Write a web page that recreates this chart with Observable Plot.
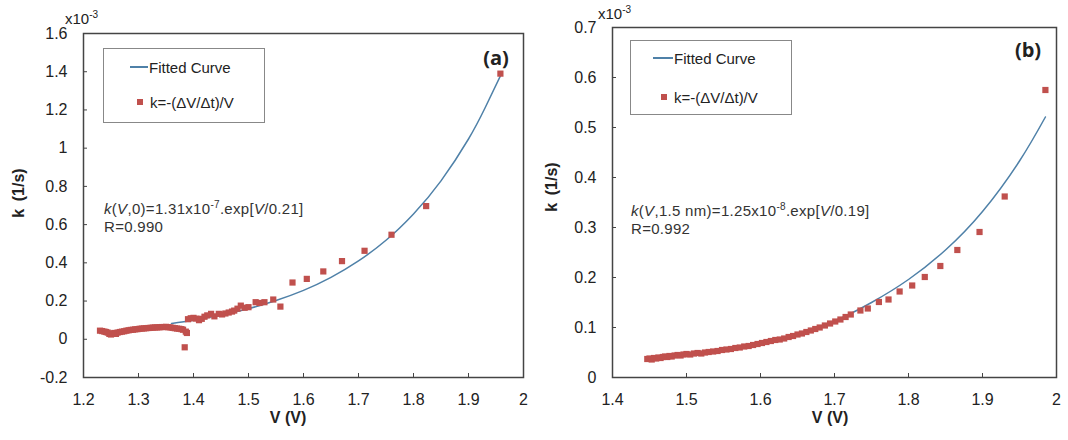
<!DOCTYPE html>
<html><head><meta charset="utf-8">
<script src="https://cdn.jsdelivr.net/npm/d3@7"></script>
<script src="https://cdn.jsdelivr.net/npm/@observablehq/plot@0.6"></script>
<style>
body{margin:0;background:#fff;font-family:"Liberation Sans",Arial,sans-serif;}
#wrap{position:relative;width:1068px;height:440px;overflow:hidden;background:#fff}
.panel{position:absolute;top:0}
.ov{position:absolute;color:#222;white-space:nowrap;line-height:1}
.c{transform:translate(-50%,-50%)}
.ttl{font-weight:bold;font-size:16px;color:#222}
.rot{transform:translate(-50%,-50%) rotate(-90deg);word-spacing:3px}
.leg{position:absolute;border:1.5px solid #888;background:#fff;box-sizing:border-box}
.lt{font-size:15px;color:#222}
.ann{font-size:15px;line-height:18px;color:#333;letter-spacing:0.3px}
sup{font-size:10px;vertical-align:6px;line-height:0}
.panlab{font-weight:bold;font-size:20px;font-family:"Open Sans","Liberation Sans",sans-serif}
</style></head><body><div id="wrap"></div>
<script>
// Panel (a): k in units of 1e-3 1/s
const vA = [1.230,1.234,1.238,1.241,1.244,1.247,1.250,1.253,1.256,1.259,1.262,1.266,1.270,1.274,1.278,1.282,1.286,1.290,1.294,1.298,1.302,1.306,1.310,1.314,1.318,1.322,1.326,1.330,1.334,1.338,1.342,1.346,1.350,1.354,1.358,1.362,1.366,1.370,1.374,1.378,1.381,1.384,1.386,1.388,1.390,1.395,1.400,1.405,1.410,1.415,1.420,1.425,1.432,1.438,1.446,1.452,1.458,1.464,1.470,1.474,1.480,1.486,1.493,1.500,1.513,1.520,1.529,1.545,1.558,1.580,1.606,1.636,1.670,1.711,1.760,1.823,1.958];
const kA = [0.045,0.043,0.040,0.038,0.035,0.028,0.025,0.030,0.033,0.028,0.035,0.038,0.040,0.042,0.045,0.047,0.049,0.050,0.052,0.053,0.055,0.056,0.057,0.058,0.059,0.060,0.061,0.062,0.062,0.063,0.064,0.064,0.065,0.063,0.062,0.060,0.058,0.056,0.055,0.053,0.050,-0.042,0.040,0.033,0.105,0.110,0.112,0.108,0.100,0.107,0.118,0.125,0.133,0.120,0.133,0.130,0.135,0.140,0.145,0.150,0.160,0.176,0.165,0.168,0.194,0.190,0.194,0.208,0.171,0.297,0.316,0.355,0.409,0.463,0.547,0.697,1.390];
const fitVA = [1.36,1.40,1.45,1.50,1.55,1.60,1.65,1.70,1.75,1.80,1.85,1.90,1.93,1.96];
const fitKA = [0.083,0.100,0.127,0.160,0.203,0.256,0.324,0.410,0.518,0.656,0.829,1.048,1.210,1.390];
const xTicksA = [1.2,1.3,1.4,1.5,1.6,1.7,1.8,1.9,2];
const yTicksA = [-0.2,0,0.2,0.4,0.6,0.8,1,1.2,1.4,1.6];

// Panel (b)
const vB = [1.447,1.450,1.453,1.456,1.459,1.462,1.465,1.468,1.471,1.474,1.477,1.480,1.484,1.488,1.492,1.496,1.500,1.505,1.510,1.515,1.520,1.525,1.530,1.536,1.542,1.548,1.554,1.560,1.566,1.572,1.578,1.584,1.590,1.596,1.602,1.608,1.614,1.620,1.626,1.632,1.638,1.644,1.650,1.656,1.662,1.668,1.674,1.680,1.687,1.694,1.701,1.708,1.715,1.722,1.735,1.745,1.760,1.773,1.788,1.805,1.822,1.843,1.866,1.896,1.930,1.985];
const kB = [0.037,0.038,0.036,0.039,0.038,0.040,0.039,0.041,0.042,0.041,0.043,0.042,0.044,0.045,0.044,0.046,0.047,0.046,0.048,0.049,0.048,0.050,0.051,0.052,0.053,0.055,0.056,0.057,0.059,0.060,0.062,0.063,0.065,0.067,0.069,0.071,0.073,0.075,0.076,0.078,0.081,0.083,0.086,0.088,0.091,0.094,0.097,0.100,0.104,0.108,0.112,0.116,0.121,0.126,0.134,0.138,0.151,0.156,0.172,0.184,0.201,0.223,0.255,0.291,0.362,0.575];
const fitVB = [1.45,1.50,1.55,1.60,1.65,1.70,1.75,1.80,1.85,1.90,1.95,1.985];
const fitKB = [0.035,0.045,0.055,0.068,0.088,0.113,0.150,0.196,0.255,0.332,0.433,0.521];
const xTicksB = [1.4,1.5,1.6,1.7,1.8,1.9,2];
const yTicksB = [0,0.1,0.2,0.3,0.4,0.5,0.6,0.7];

const MARK = "#c0504d", LINE = "#4f81a8";

function panel(o){
  const pts = o.v.map((v,i)=>({v,k:o.k[i]}));
  const fit = o.fv.map((v,i)=>({v,k:o.fk[i]}));
  return Plot.plot({
    width:534, height:440,
    marginLeft:o.ml, marginRight:o.mr, marginTop:o.mt, marginBottom:o.mb,
    x:{domain:o.xd}, y:{domain:o.yd},
    style:{fontFamily:'"Liberation Sans",Arial,sans-serif', fontSize:"16px", color:"#222", background:"transparent"},
    marks:[
      Plot.axisX({ticks:o.xt, tickFormat:d=>String(d), tickSize:-4, tickPadding:20, label:null, stroke:"#444"}),
      Plot.axisY({ticks:o.yt, tickFormat:d=>String(d), tickSize:-4, tickPadding:20, label:null, stroke:"#444"}),
      Plot.line(fit,{x:"v",y:"k",stroke:LINE,strokeWidth:1.5,curve:"natural"}),
      Plot.dot(pts,{x:"v",y:"k",symbol:"square",r:3.5,fill:MARK,stroke:"none"}),
      Plot.frame({stroke:"#444", strokeWidth:1.5})
    ]
  });
}

const wrap = document.getElementById("wrap");
const pa = panel({v:vA,k:kA,fv:fitVA,fk:fitKA,xd:[1.2,2],yd:[-0.2,1.6],xt:xTicksA,yt:yTicksA,ml:83,mr:11,mt:33,mb:63});
pa.classList.add("panel"); pa.style.left="0px"; wrap.appendChild(pa);
const pb = panel({v:vB,k:kB,fv:fitVB,fk:fitKB,xd:[1.4,2],yd:[0,0.7],xt:xTicksB,yt:yTicksB,ml:78,mr:12,mt:27,mb:63});
pb.classList.add("panel"); pb.style.left="534px"; wrap.appendChild(pb);

function add(html, css, cls){
  const d=document.createElement("div"); d.className="ov "+(cls||""); d.innerHTML=html;
  Object.assign(d.style, css); wrap.appendChild(d); return d;
}
function legend(x,y,w,h,lx1,lx2,ly,tx,sx,sy,tx2){
  const b=document.createElement("div"); b.className="leg";
  Object.assign(b.style,{left:x+"px",top:y+"px",width:w+"px",height:h+"px"}); wrap.appendChild(b);
  const ln=document.createElement("div");
  Object.assign(ln.style,{position:"absolute",left:lx1+"px",top:(ly-0.75)+"px",width:(lx2-lx1)+"px",height:"1.5px",background:LINE}); wrap.appendChild(ln);
  add("Fitted Curve",{left:tx+"px",top:ly+"px",transform:"translateY(-50%)"},"lt");
  const sq=document.createElement("div");
  Object.assign(sq.style,{position:"absolute",left:(sx-3)+"px",top:(sy-3)+"px",width:"6px",height:"6px",background:MARK}); wrap.appendChild(sq);
  add("k=-(ΔV/Δt)/V",{left:tx2+"px",top:sy+"px",transform:"translateY(-50%)"},"lt");
}

// Panel a overlays
add('x10<sup>-3</sup>',{left:"65px",top:"11px",fontSize:"15px"});
legend(103,48,162,75,130,148,67,149,140,102,150);
add('<i>k</i>(<i>V</i>,0)=1.31x10<sup>-7</sup>.exp[<i>V</i>/0.21]<br>R=0.990',{left:"104px",top:"200px"},"ann");
add('(a)',{left:"496px",top:"58px"},"c panlab");
add('k (1/s)',{left:"19px",top:"193px"},"ttl rot");
add('V (V)',{left:"288px",top:"418px"},"ttl c");

// Panel b overlays
add('x10<sup>-3</sup>',{left:"598px",top:"6px",fontSize:"15px"});
legend(630,40,162,75,653,673,58,674,664,97,674);
add('<i>k</i>(<i>V</i>,1.5 nm)=1.25x10<sup>-8</sup>.exp[<i>V</i>/0.19]<br>R=0.992',{left:"631px",top:"202px"},"ann");
add('(b)',{left:"1028px",top:"50px"},"c panlab");
add('k (1/s)',{left:"552px",top:"187px"},"ttl rot");
add('V (V)',{left:"830px",top:"418px"},"ttl c");
</script></body></html>
